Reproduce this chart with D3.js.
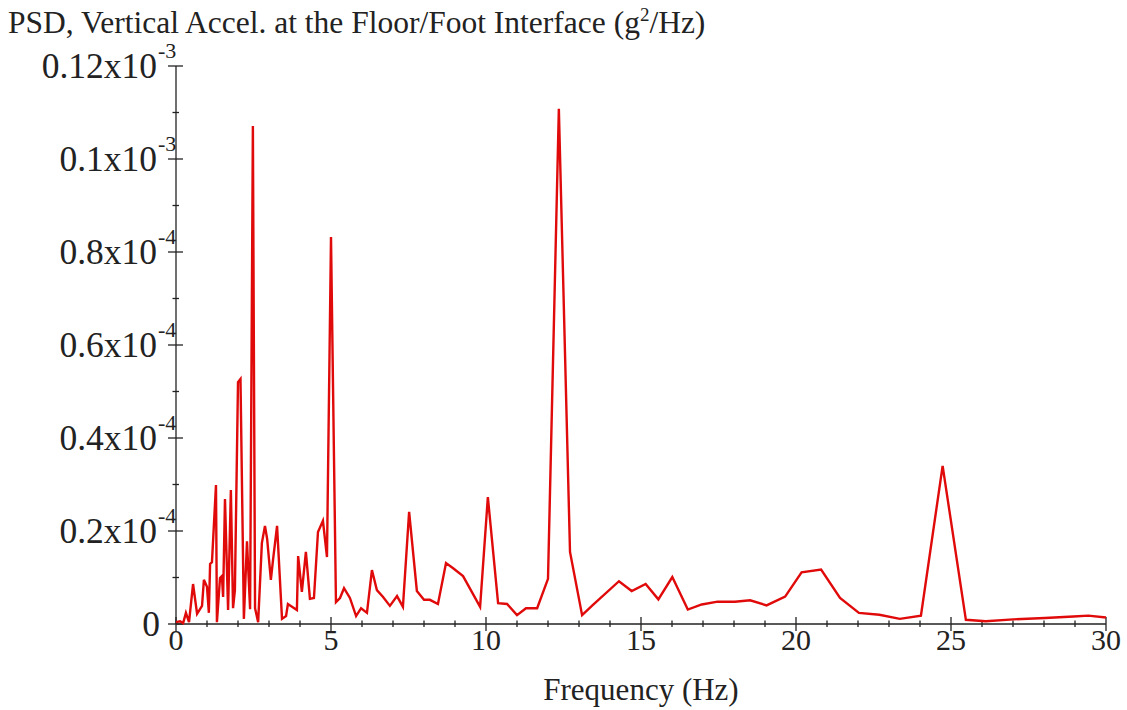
<!DOCTYPE html>
<html>
<head>
<meta charset="utf-8">
<script src="https://cdn.jsdelivr.net/npm/d3@7"></script>
<style>
  html, body { margin: 0; padding: 0; background: #fff; }
  svg text { font-family: "Liberation Serif", "Times New Roman", serif; fill: #222; }
</style>
</head>
<body>
<div id="chart"></div>
<script>
// PSD of vertical acceleration, values in units of 1e-4 g^2/Hz
const freqHz = [
  0, 0.13, 0.23, 0.32, 0.42, 0.55, 0.68, 0.84, 0.90, 1.00,
  1.06, 1.10, 1.16, 1.29, 1.32, 1.42, 1.48, 1.52, 1.58, 1.68,
  1.77, 1.84, 1.90, 2.00, 2.08, 2.19, 2.29, 2.39, 2.48, 2.55,
  2.65, 2.77, 2.87, 2.94, 3.06, 3.13, 3.26, 3.42, 3.55, 3.61,
  3.90, 3.94, 4.06, 4.19, 4.32, 4.45, 4.58, 4.74, 4.87, 5.00,
  5.16, 5.29, 5.42, 5.61, 5.81, 5.97, 6.16, 6.32, 6.48, 6.68,
  6.90, 7.13, 7.32, 7.52, 7.77, 8.00, 8.19, 8.45, 8.71, 8.94,
  9.26, 9.81, 10.06, 10.39, 10.68, 11.00, 11.29, 11.65, 12.00, 12.35,
  12.71, 13.10, 13.45, 14.29, 14.70, 15.15, 15.56, 16.01, 16.51, 16.96,
  17.47, 18.03, 18.52, 19.05, 19.65, 20.18, 20.81, 21.42, 22.03, 22.69,
  23.35, 24.03, 24.73, 25.48, 26.12, 27.01, 28.03, 28.95, 29.43, 30.0
];
const psd = [
  0.004, 0.006, 0.002, 0.024, 0.004, 0.086, 0.022, 0.039, 0.095, 0.080,
  0.024, 0.129, 0.133, 0.299, 0.004, 0.099, 0.103, 0.058, 0.269, 0.030,
  0.288, 0.034, 0.073, 0.520, 0.527, 0.011, 0.178, 0.032, 1.071, 0.034,
  0.004, 0.174, 0.211, 0.183, 0.095, 0.138, 0.211, 0.011, 0.017, 0.043,
  0.030, 0.146, 0.069, 0.155, 0.054, 0.056, 0.198, 0.222, 0.144, 0.832,
  0.047, 0.056, 0.077, 0.056, 0.017, 0.034, 0.024, 0.116, 0.073, 0.058,
  0.039, 0.060, 0.037, 0.241, 0.071, 0.052, 0.052, 0.043, 0.131, 0.120,
  0.103, 0.037, 0.273, 0.045, 0.043, 0.019, 0.034, 0.034, 0.097, 1.108,
  0.155, 0.019, 0.041, 0.092, 0.071, 0.086, 0.053, 0.101, 0.031, 0.042,
  0.048, 0.048, 0.051, 0.040, 0.059, 0.111, 0.117, 0.056, 0.024, 0.020,
  0.011, 0.018, 0.340, 0.009, 0.006, 0.010, 0.013, 0.016, 0.018, 0.014
];

const xMajorTicks = [0, 5, 10, 15, 20, 25, 30];
const yTickValues = [0, 0.2, 0.4, 0.6, 0.8, 1.0, 1.2];
const yTickMantissa = ['0', '0.2x10', '0.4x10', '0.6x10', '0.8x10', '0.1x10', '0.12x10'];
const yTickExponent = ['', '-4', '-4', '-4', '-4', '-3', '-3'];

const WIDTH = 1127;
const HEIGHT = 710;
const PLOT = { left: 176, right: 1106, top: 66, bottom: 624 };
const LINE_COLOR = '#e00a0a';
const AXIS_COLOR = '#222';

const svg = d3.select('#chart')
  .append('svg')
  .attr('width', WIDTH)
  .attr('height', HEIGHT);

const x = d3.scaleLinear().domain([0, 30]).range([PLOT.left, PLOT.right]);
const y = d3.scaleLinear().domain([0, 1.2]).range([PLOT.bottom, PLOT.top]);

// Title
const title = svg.append('text')
  .attr('x', 8)
  .attr('y', 33)
  .attr('font-size', '31.5px');
title.append('tspan').text('PSD, Vertical Accel. at the Floor/Foot Interface (g');
title.append('tspan').attr('font-size', '19px').attr('dy', -12).text('2');
title.append('tspan').attr('dy', 12).text('/Hz)');

// --- Axes ---
const minorX = d3.range(0, 31).filter(d => d % 5 !== 0);
const minorY = d3.range(0.1, 1.2, 0.2);

const axisG = svg.append('g').attr('stroke', AXIS_COLOR).attr('stroke-width', 1.3);

// x axis line + ticks
axisG.append('line')
  .attr('x1', x(0)).attr('x2', x(30))
  .attr('y1', y(0)).attr('y2', y(0));
axisG.selectAll('.x-major')
  .data(xMajorTicks)
  .join('line')
  .attr('class', 'x-major')
  .attr('x1', d => x(d)).attr('x2', d => x(d))
  .attr('y1', y(0) - 7).attr('y2', y(0) + 7);
axisG.selectAll('.x-minor')
  .data(minorX)
  .join('line')
  .attr('class', 'x-minor')
  .attr('x1', d => x(d)).attr('x2', d => x(d))
  .attr('y1', y(0) - 3.5).attr('y2', y(0) + 3);

// y axis line + ticks
axisG.append('line')
  .attr('x1', x(0)).attr('x2', x(0))
  .attr('y1', y(0)).attr('y2', y(1.2));
axisG.selectAll('.y-major')
  .data(yTickValues)
  .join('line')
  .attr('class', 'y-major')
  .attr('x1', x(0) - 8).attr('x2', x(0) + 7)
  .attr('y1', d => y(d)).attr('y2', d => y(d));
axisG.selectAll('.y-minor')
  .data(minorY)
  .join('line')
  .attr('class', 'y-minor')
  .attr('x1', x(0) - 3.5).attr('x2', x(0) + 3)
  .attr('y1', d => y(d)).attr('y2', d => y(d));

// x tick labels
svg.selectAll('.x-label')
  .data(xMajorTicks)
  .join('text')
  .attr('class', 'x-label')
  .attr('x', d => x(d))
  .attr('y', y(0) + 26)
  .attr('text-anchor', 'middle')
  .attr('font-size', '30px')
  .text(d => d);

// y tick labels with superscript exponent
svg.selectAll('.y-label')
  .data(yTickValues)
  .join('text')
  .attr('class', 'y-label')
  .attr('x', (d, i) => yTickExponent[i] ? 157 : 160)
  .attr('y', d => y(d) + 12)
  .attr('text-anchor', 'end')
  .attr('font-size', '35.5px')
  .text((d, i) => yTickMantissa[i]);

svg.selectAll('.y-exp')
  .data(yTickValues.filter((d, i) => yTickExponent[i]))
  .join('text')
  .attr('class', 'y-exp')
  .attr('x', 158)
  .attr('y', d => y(d) - 8)
  .attr('font-size', '22px')
  .text(d => yTickExponent[yTickValues.indexOf(d)]);

// x axis title
svg.append('text')
  .attr('x', (PLOT.left + PLOT.right) / 2)
  .attr('y', 700)
  .attr('text-anchor', 'middle')
  .attr('font-size', '31px')
  .text('Frequency (Hz)');

// --- Data line ---
const points = freqHz.map((f, i) => [f, psd[i]]);
const line = d3.line()
  .x(d => x(d[0]))
  .y(d => y(d[1]));

svg.append('path')
  .datum(points)
  .attr('d', line)
  .attr('fill', 'none')
  .attr('stroke', LINE_COLOR)
  .attr('stroke-width', 2.4)
  .attr('stroke-linejoin', 'miter');
</script>
</body>
</html>
